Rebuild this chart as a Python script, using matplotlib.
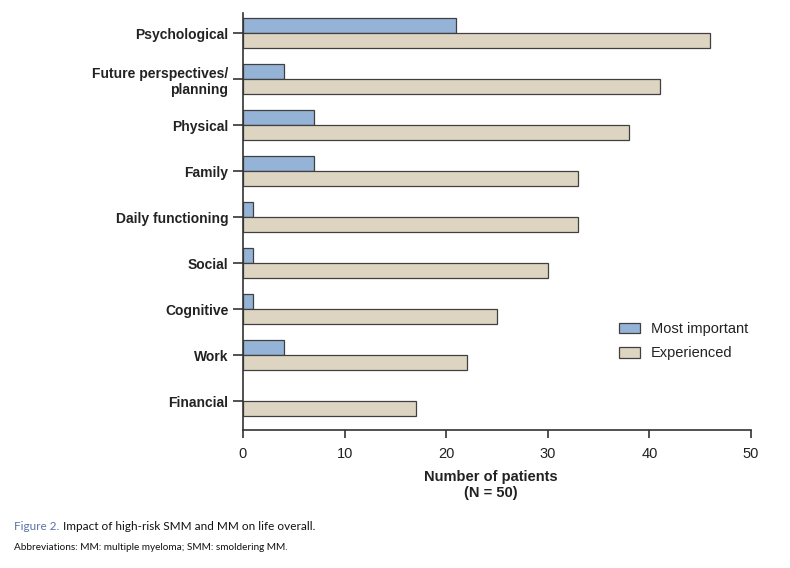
import matplotlib
matplotlib.use("Agg")
import matplotlib.pyplot as plt
import numpy as np

plt.rcParams['font.family'] = ['Liberation Sans', 'DejaVu Sans']

categories = ["Psychological", "Future perspectives/\nplanning", "Physical", "Family",
              "Daily functioning", "Social", "Cognitive", "Work", "Financial"]
most_important = [21, 4, 7, 7, 1, 1, 1, 4, 0]
experienced = [46, 41, 38, 33, 33, 30, 25, 22, 17]
xticks = [0, 10, 20, 30, 40, 50]

blue = "#95b3d7"
beige = "#ddd5c2"
edge = "#404040"

fig = plt.figure(figsize=(7.9, 5.68), dpi=100)
ax = fig.add_axes([243/790, 1-430/568, (751-243)/790, (430-13)/568])

y = np.arange(len(categories))
h = 0.33
lw_mi = [0.9 if v > 0 else 0 for v in most_important]
ax.barh(y - h/2 - 0.005, most_important, height=h, color=blue, edgecolor=edge, linewidth=lw_mi, label="Most important")
ax.barh(y + h/2 + 0.005, experienced, height=h, color=beige, edgecolor=edge, linewidth=0.9, label="Experienced")

ax.set_ylim(8.63, -0.435)
ax.set_xlim(0, 50)
ax.set_yticks(y)
ax.set_yticklabels(categories, fontsize=10, fontweight="bold", color="#222222")
ax.set_xticks(xticks)
ax.set_xticklabels([str(t) for t in xticks], fontsize=10.5, color="#222222")
for s in ["top", "right"]:
    ax.spines[s].set_visible(False)
for s in ["left", "bottom"]:
    ax.spines[s].set_color("#333333")
    ax.spines[s].set_linewidth(1.2)
ax.tick_params(axis="y", direction="out", length=7, width=1.2, color="#333333", pad=3.5)
ax.tick_params(axis="x", direction="out", length=6, width=1.2, color="#333333", pad=6)
ax.set_xlabel("Number of patients\n(N = 50)", fontsize=10.5, fontweight="bold",
              color="#222222", labelpad=6, linespacing=1.25)
ax.xaxis.set_label_coords((491-243)/508, -0.095)
ax.xaxis.label.set_va("top")

leg = ax.legend(loc="upper left", bbox_to_anchor=((606-243)/508, 1-(309-13)/417), frameon=False,
                prop={"size": 10.5}, handlelength=1.45, handleheight=0.75,
                labelspacing=0.7, handletextpad=0.75)
for t in leg.get_texts():
    t.set_color("#222222")

cap_y = 1-527/568
t1 = fig.text(14/790, cap_y, "Figure 2.", fontsize=8.5, family="Lato", color="#5a73a8", va="center")
fig.canvas.draw()
bb = t1.get_window_extent()
fig.text((bb.x1 + 4)/790, cap_y, "Impact of high-risk SMM and MM on life overall.", fontsize=8.5, family="Lato",
         color="#111111", va="center")
fig.text(14/790, 1-547/568, "Abbreviations: MM: multiple myeloma; SMM: smoldering MM.", fontsize=7.2,
         family="Lato", color="#111111", va="center")

fig.savefig("out.png", dpi=100)
